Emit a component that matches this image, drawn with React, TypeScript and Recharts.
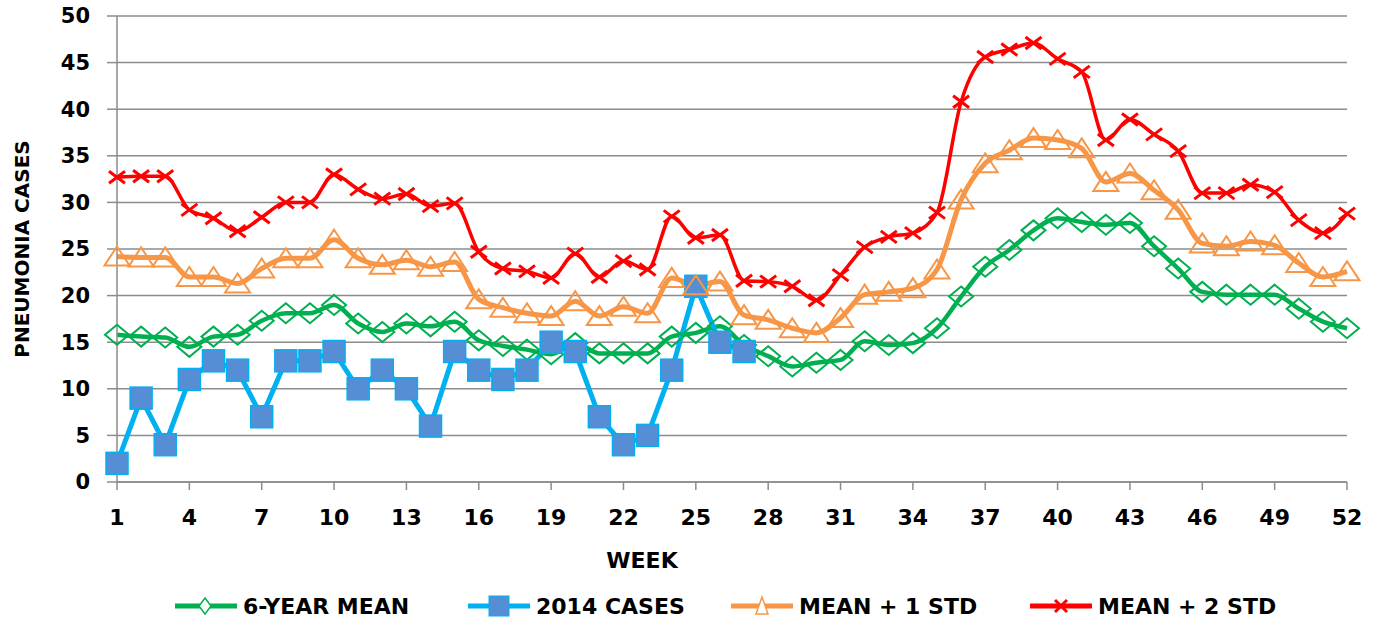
import { LineChart, Line, XAxis, YAxis, CartesianGrid, Legend, Label } from 'recharts'

const weeks = [
  1, 2, 3, 4, 5, 6, 7, 8, 9, 10, 11, 12, 13, 14, 15, 16, 17, 18, 19, 20, 21, 22, 23, 24, 25, 26,
  27, 28, 29, 30, 31, 32, 33, 34, 35, 36, 37, 38, 39, 40, 41, 42, 43, 44, 45, 46, 47, 48, 49, 50,
  51, 52,
]

const sixYearMean = [
  15.8, 15.6, 15.5, 14.5, 15.6, 15.8, 17.3, 18.1, 18.1, 19.0, 17.0, 16.1, 17.0, 16.7, 17.2, 15.2,
  14.6, 14.2, 13.7, 14.9, 13.8, 13.8, 13.8, 15.6, 16.0, 16.7, 14.7, 13.5, 12.4, 12.8, 13.1, 15.1,
  14.7, 14.9, 16.5, 19.9, 23.1, 24.9, 27.0, 28.3, 27.9, 27.6, 27.8, 25.3, 22.9, 20.4, 20.1, 20.1,
  20.1, 18.6, 17.2, 16.5,
]

const cases2014 = [
  2, 9, 4, 11, 13, 12, 7, 13, 13, 14, 10, 12, 10, 6, 14, 12, 11, 12, 15, 14, 7, 4, 5, 12, 21, 15, 14,
]

const meanPlus1 = [
  24.2, 24.1, 24.1, 22.0, 22.0, 21.3, 22.9, 24.0, 24.0, 26.0, 24.0, 23.3, 23.8, 23.1, 23.6, 19.6,
  18.7, 18.1, 17.8, 19.4, 17.8, 18.8, 18.1, 21.9, 21.1, 21.5, 17.9, 17.4, 16.5, 16.0, 17.6, 20.1,
  20.4, 20.8, 22.8, 30.3, 34.2, 35.6, 36.9, 36.7, 35.8, 32.2, 33.1, 31.3, 29.2, 25.6, 25.3, 25.8,
  25.4, 23.5, 22.0, 22.6,
]

const meanPlus2 = [
  32.7, 32.8, 32.8, 29.2, 28.3, 26.9, 28.4, 30.0, 30.0, 33.0, 31.4, 30.4, 30.9, 29.6, 29.9, 24.7,
  22.9, 22.6, 21.9, 24.5, 22.0, 23.7, 22.8, 28.5, 26.2, 26.5, 21.6, 21.5, 21.0, 19.5, 22.2, 25.2,
  26.3, 26.7, 28.9, 40.8, 45.6, 46.4, 47.1, 45.4, 44.0, 36.7, 38.9, 37.3, 35.5, 31.0, 31.0, 31.9,
  31.1, 28.1, 26.7, 28.8,
]

const weekTicks = [1, 4, 7, 10, 13, 16, 19, 22, 25, 28, 31, 34, 37, 40, 43, 46, 49, 52]
const caseTicks = [0, 5, 10, 15, 20, 25, 30, 35, 40, 45, 50]

const data = weeks.map((week, i) => ({
  week,
  mean: sixYearMean[i],
  cases: i < cases2014.length ? cases2014[i] : null,
  std1: meanPlus1[i],
  std2: meanPlus2[i],
}))

const GREEN = '#00B050'
const BLUE = '#00B0F0'
const SQUARE = '#558ED5'
const ORANGE = '#F79646'
const RED = '#FF0000'
const GRID = '#8C8C8C'
const FONT = '"DejaVu Sans", Verdana, sans-serif'

type DotProps = { cx?: number | null; cy?: number | null; index?: number }

const valid = (p: DotProps) => p.cx != null && p.cy != null && !isNaN(p.cx) && !isNaN(p.cy)

function DiamondDot(p: DotProps) {
  if (!valid(p)) return <g key={`d${p.index}`} />
  const { cx, cy } = p as { cx: number; cy: number }
  return (
    <path
      key={`d${p.index}`}
      d={`M${cx},${cy - 10} L${cx + 12},${cy} L${cx},${cy + 10} L${cx - 12},${cy} Z`}
      fill="none"
      stroke={GREEN}
      strokeWidth={2}
    />
  )
}

function SquareDot(p: DotProps) {
  if (!valid(p)) return <g key={`s${p.index}`} />
  const { cx, cy } = p as { cx: number; cy: number }
  return (
    <rect
      key={`s${p.index}`}
      x={cx - 11}
      y={cy - 11}
      width={22}
      height={22}
      fill={SQUARE}
      stroke={BLUE}
      strokeWidth={1.5}
    />
  )
}

function TriangleDot(p: DotProps) {
  if (!valid(p)) return <g key={`t${p.index}`} />
  const { cx, cy } = p as { cx: number; cy: number }
  return (
    <path
      key={`t${p.index}`}
      d={`M${cx},${cy - 10} L${cx + 12.5},${cy + 9} L${cx - 12.5},${cy + 9} Z`}
      fill="none"
      stroke={ORANGE}
      strokeWidth={2}
    />
  )
}

function CrossDot(p: DotProps) {
  if (!valid(p)) return <g key={`x${p.index}`} />
  const { cx, cy } = p as { cx: number; cy: number }
  return (
    <g key={`x${p.index}`} stroke={RED} strokeWidth={3}>
      <line x1={cx - 8} y1={cy - 6} x2={cx + 8} y2={cy + 6} />
      <line x1={cx - 8} y1={cy + 6} x2={cx + 8} y2={cy - 6} />
    </g>
  )
}

const legendItems = [
  { name: '6-YEAR MEAN', color: GREEN, left: 175, marker: 'diamond' },
  { name: '2014 CASES', color: BLUE, left: 468, marker: 'square' },
  { name: 'MEAN + 1 STD', color: ORANGE, left: 731, marker: 'triangle' },
  { name: 'MEAN + 2 STD', color: RED, left: 1030, marker: 'cross' },
]

function LegendMarker({ marker, color }: { marker: string; color: string }) {
  return (
    <svg width={62} height={30} style={{ display: 'block' }}>
      <line x1={0} y1={15} x2={62} y2={15} stroke={color} strokeWidth={5} strokeLinecap="round" />
      {marker === 'diamond' && (
        <path d="M30,7 L36,15 L30,23 L24,15 Z" fill="#fff" stroke={GREEN} strokeWidth={1.5} />
      )}
      {marker === 'square' && (
        <rect x={21} y={5} width={20} height={20} fill={SQUARE} stroke={BLUE} strokeWidth={1} />
      )}
      {marker === 'triangle' && (
        <path d="M31,6 L37,23 L25,23 Z" fill="#fff" stroke={ORANGE} strokeWidth={1.5} />
      )}
      {marker === 'cross' && (
        <g stroke={RED} strokeWidth={3}>
          <line x1={25} y1={9} x2={37} y2={21} />
          <line x1={25} y1={21} x2={37} y2={9} />
        </g>
      )}
    </svg>
  )
}

function ChartLegend() {
  return (
    <div style={{ position: 'relative', width: 1377, height: 40 }}>
      {legendItems.map(item => (
        <div
          key={item.name}
          style={{
            position: 'absolute',
            left: item.left,
            top: 5,
            display: 'flex',
            alignItems: 'center',
            fontFamily: FONT,
            fontWeight: 700,
            fontSize: 22,
            color: '#000',
            whiteSpace: 'nowrap',
          }}
        >
          <LegendMarker marker={item.marker} color={item.color} />
          <span style={{ marginLeft: 6 }}>{item.name}</span>
        </div>
      ))}
    </div>
  )
}

const tickStyle = { fontSize: 21, fontWeight: 700, fill: '#000', fontFamily: FONT }

export default function App() {
  return (
    <div style={{ position: 'absolute', left: 0, top: 0, width: 1377, height: 634, background: '#fff' }}>
      <LineChart
        width={1377}
        height={634}
        data={data}
        margin={{ top: 16, right: 30, bottom: 8, left: 0 }}
      >
        <CartesianGrid vertical={false} stroke={GRID} strokeWidth={1.5} />
        <XAxis
          dataKey="week"
          type="number"
          domain={[1, 52]}
          ticks={weekTicks}
          interval={0}
          height={104}
          tickSize={8}
          tickMargin={19}
          stroke={GRID}
          strokeWidth={1.5}
          tick={{ ...tickStyle, fontSize: 22 }}
        >
          <Label
            content={() => (
              <text
                x={642}
                y={568}
                textAnchor="middle"
                fontFamily={FONT}
                fontWeight={700}
                fontSize={22}
                fill="#000"
              >
                WEEK
              </text>
            )}
          />
        </XAxis>
        <YAxis
          type="number"
          domain={[0, 50]}
          ticks={caseTicks}
          interval={0}
          width={117}
          tickSize={10}
          tickMargin={17}
          stroke={GRID}
          strokeWidth={1.5}
          tick={tickStyle}
        >
          <Label
            content={() => (
              <text
                x={22}
                y={249}
                transform="rotate(-90 22 249)"
                textAnchor="middle"
                dominantBaseline="central"
                fontFamily={FONT}
                fontWeight={700}
                fontSize={20}
                fill="#000"
              >
                PNEUMONIA CASES
              </text>
            )}
          />
        </YAxis>
        <Legend
          verticalAlign="bottom"
          content={() => <ChartLegend />}
          wrapperStyle={{ left: 0, bottom: 8, width: 1377, height: 40 }}
        />
        <Line
          dataKey="mean"
          type="monotone"
          stroke={GREEN}
          strokeWidth={4.5}
          dot={DiamondDot}
          activeDot={false}
          isAnimationActive={false}
        />
        <Line
          dataKey="cases"
          type="linear"
          stroke={BLUE}
          strokeWidth={5}
          dot={SquareDot}
          activeDot={false}
          isAnimationActive={false}
        />
        <Line
          dataKey="std1"
          type="monotone"
          stroke={ORANGE}
          strokeWidth={5}
          dot={TriangleDot}
          activeDot={false}
          isAnimationActive={false}
        />
        <Line
          dataKey="std2"
          type="monotone"
          stroke={RED}
          strokeWidth={3.5}
          dot={CrossDot}
          activeDot={false}
          isAnimationActive={false}
        />
      </LineChart>
    </div>
  )
}
